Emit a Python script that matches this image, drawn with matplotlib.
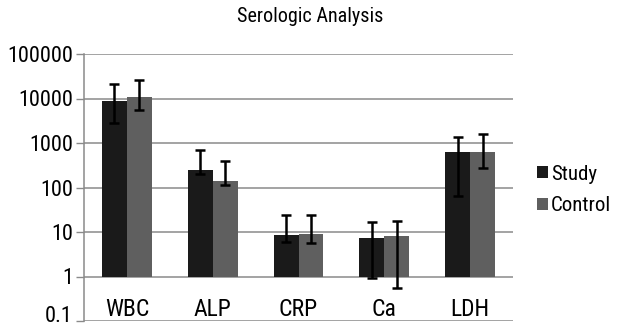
import matplotlib
matplotlib.use("Agg")
import matplotlib.pyplot as plt
import numpy as np
from matplotlib import font_manager
from matplotlib.transforms import offset_copy

categories = ["WBC", "ALP", "CRP", "Ca", "LDH"]
series_names = ["Study", "Control"]
study = [8750, 247, 8.7, 7.5, 635]
control = [10800, 142, 9.2, 8.3, 640]
study_err_hi = [21500, 705, 24, 16.7, 1370]
study_err_lo = [2830, 198, 6.0, 0.93, 64]
control_err_hi = [26600, 387, 24, 17.3, 1560]
control_err_lo = [5450, 116, 5.7, 0.56, 279]
ytick_vals = [0.1, 1, 10, 100, 1000, 10000, 100000]
ytick_labels = ["0.1", "1", "10", "100", "1000", "10000", "100000"]

names = {f.name for f in font_manager.fontManager.ttflist}
prefs = ["Liberation Sans Narrow", "Arial Narrow", "Roboto Condensed",
         "Archivo Narrow", "Liberation Sans"]
fam = [f for f in prefs if f in names][:1] + ["DejaVu Sans"]
plt.rcParams["font.family"] = fam

fig = plt.figure(figsize=(6.18, 3.31), dpi=100)
ax = fig.add_axes([84/618, 1-321/331, (513-84)/618, (321-54)/331])
ax.set_yscale("log")
ax.set_ylim(0.1, 100000)
x = np.arange(len(categories))
ax.set_xlim(-0.5, len(categories)-0.5)
w = 0.29
base = 1.0
cols = ["#1a1a1a", "#5f5f5f"]
for i, (vals, lo, hi) in enumerate([(study, study_err_lo, study_err_hi),
                                    (control, control_err_lo, control_err_hi)]):
    xs = x + (i - 0.5) * w
    vals = np.array(vals)
    ax.bar(xs, vals - base, bottom=base, width=w, color=cols[i],
           label=series_names[i], zorder=3)
    yerr = [vals - np.array(lo), np.array(hi) - vals]
    ax.errorbar(xs, vals, yerr=yerr, fmt="none", ecolor="black",
                elinewidth=1.8, capsize=3.5, capthick=1.8, zorder=4)

for v in ytick_vals:
    ax.axhline(v, color="#8a8a8a", lw=1.1, zorder=1)
ax.set_yticks(ytick_vals)
ax.set_yticklabels([""] + ytick_labels[1:], fontsize=16)
ax.minorticks_off()
ax.tick_params(axis="y", length=6, color="#8a8a8a", width=1, pad=2)
ax.set_xticks([])
for s in ["top", "right", "bottom"]:
    ax.spines[s].set_visible(False)
ax.spines["left"].set_color("#8a8a8a")
ax.spines["left"].set_linewidth(1.1)

# bottom tick label drawn separately, nudged up so it stays inside the canvas
tr = offset_copy(ax.get_yaxis_transform(), fig=fig, x=-8, y=3, units="points")
ax.text(0, ytick_vals[0], ytick_labels[0], transform=tr, ha="right", va="center",
        fontsize=16, clip_on=False)

for xi, c in zip(x, categories):
    ax.text(xi, 0.18, c, ha="center", va="center", fontsize=17)

fig.text(310/618, 1-17/331, "Serologic Analysis", ha="center", va="center", fontsize=14.5)

leg = fig.legend(loc="center left", bbox_to_anchor=(535/618, 1-190/331), frameon=False,
                 fontsize=15, handlelength=0.5, handleheight=0.5, handletextpad=0.15,
                 labelspacing=0.6, borderpad=0.1, borderaxespad=0)

fig.savefig("out.png", dpi=100)
